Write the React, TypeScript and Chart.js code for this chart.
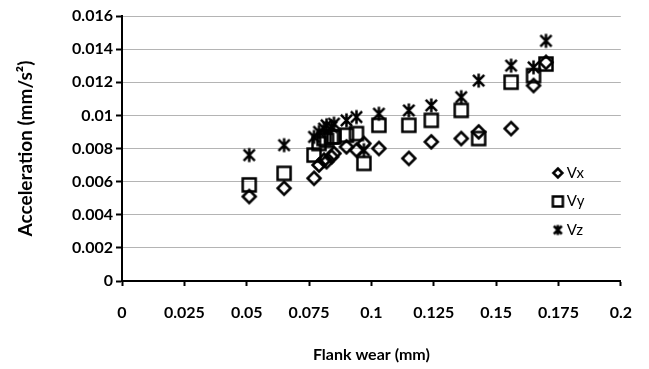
import React, { useEffect, useRef } from 'react';
import { Chart, registerables } from 'chart.js';

Chart.register(...registerables);

const flankWear = [0.051, 0.065, 0.077, 0.079, 0.081, 0.082, 0.084, 0.085, 0.09, 0.094, 0.097, 0.103, 0.115, 0.124, 0.136, 0.143, 0.156, 0.165, 0.17];
const vx = [0.0051, 0.0056, 0.0062, 0.007, 0.0073, 0.0072, 0.0075, 0.0077, 0.0081, 0.0079, 0.0083, 0.008, 0.0074, 0.0084, 0.0086, 0.009, 0.0092, 0.0118, 0.0132];
const vy = [0.0058, 0.0065, 0.0076, 0.0083, 0.0086, 0.0085, 0.0087, 0.0087, 0.0088, 0.0089, 0.0071, 0.0094, 0.0094, 0.0097, 0.0103, 0.0086, 0.012, 0.0124, 0.0131];
const vz = [0.0076, 0.0082, 0.0087, 0.009, 0.0092, 0.0094, 0.0093, 0.0095, 0.0097, 0.0099, 0.0079, 0.0101, 0.0103, 0.0106, 0.0111, 0.0121, 0.013, 0.0129, 0.0145];
const seriesNames = ['Vx', 'Vy', 'Vz'];
const xTitle = 'Flank wear (mm)';
const yTitle = 'Acceleration (mm/s\u00B2)';

type Kind = 'diamond' | 'square' | 'star';

function makeMarker(kind: Kind, size: number, lw: number): HTMLCanvasElement {
  const c = document.createElement('canvas');
  const s = Math.ceil(size + lw * 2 + 2);
  c.width = s;
  c.height = s;
  const ctx = c.getContext('2d')!;
  ctx.strokeStyle = '#000';
  ctx.lineWidth = lw;
  const m = s / 2;
  const h = size / 2;
  ctx.beginPath();
  if (kind === 'diamond') {
    ctx.moveTo(m, m - h);
    ctx.lineTo(m + h, m);
    ctx.lineTo(m, m + h);
    ctx.lineTo(m - h, m);
    ctx.closePath();
  } else if (kind === 'square') {
    ctx.rect(m - h, m - h, size, size);
  } else {
    const d = h * 0.8;
    ctx.moveTo(m - d, m - d);
    ctx.lineTo(m + d, m + d);
    ctx.moveTo(m + d, m - d);
    ctx.lineTo(m - d, m + d);
    ctx.moveTo(m, m - h);
    ctx.lineTo(m, m + h);
  }
  ctx.stroke();
  return c;
}

const fmt = (v: number | string) => String(parseFloat(Number(v).toFixed(4)));

export default function App() {
  const ref = useRef<HTMLCanvasElement | null>(null);

  useEffect(() => {
    const canvas = ref.current;
    if (!canvas) return;
    const markers = [makeMarker('diamond', 13, 2.5), makeMarker('square', 13, 2.5), makeMarker('star', 14, 2.5)];
    const legendMarkers = [makeMarker('diamond', 9, 2.5), makeMarker('square', 10, 2.5), makeMarker('star', 10, 2.5)];
    const values = [vx, vy, vz];

    const legendPlugin = {
      id: 'insideLegend',
      afterDatasetsDraw(chart: any) {
        const { ctx, chartArea } = chart;
        ctx.save();
        ctx.font = '15px Lato';
        ctx.fillStyle = '#000';
        ctx.textBaseline = 'middle';
        ctx.textAlign = 'left';
        seriesNames.forEach((name, i) => {
          const cy = chartArea.top + 157 + i * 28.5;
          const mx = chartArea.right - 63;
          const img = legendMarkers[i];
          ctx.drawImage(img, mx - img.width / 2, cy - img.height / 2);
          ctx.fillText(name, chartArea.right - 54, cy);
        });
        ctx.restore();
      },
    };

    const chart = new Chart(canvas, {
      type: 'scatter',
      data: {
        datasets: seriesNames.map((name, i) => ({
          label: name,
          data: flankWear.map((x, j) => ({ x, y: values[i][j] })),
          pointStyle: markers[i] as any,
          pointRadius: 7,
          showLine: false,
          borderColor: '#000',
          backgroundColor: 'transparent',
        })),
      },
      options: {
        animation: false,
        responsive: true,
        maintainAspectRatio: false,
        layout: { padding: { left: 0, right: 15, top: 16, bottom: 0 } },
        plugins: {
          legend: { display: false },
          tooltip: { enabled: false },
        },
        scales: {
          x: {
            type: 'linear',
            min: 0,
            max: 0.2,
            afterFit: (scale: any) => { scale.height = 88; },
            ticks: {
              stepSize: 0.025,
              callback: (v: any) => fmt(v),
              color: '#000',
              font: { family: 'Lato', weight: 'bold', size: 16 },
              padding: 17,
              maxRotation: 0,
            },
            grid: { drawOnChartArea: false, tickLength: 5, tickColor: '#000', tickWidth: 2 },
            border: { color: '#000', width: 2 },
            title: {
              display: true,
              text: xTitle,
              color: '#000',
              font: { family: 'Lato', weight: 'bold', size: 16 },
              padding: { top: 2, bottom: 5 },
            },
          },
          y: {
            min: 0,
            max: 0.016,
            afterFit: (scale: any) => { scale.width = 122; },
            ticks: {
              stepSize: 0.002,
              callback: (v: any) => fmt(v),
              color: '#000',
              font: { family: 'Lato', weight: 'bold', size: 16 },
              padding: 3,
            },
            grid: { color: '#b4b4b4', lineWidth: 1, tickLength: 6, tickColor: '#000', tickWidth: 2 },
            border: { color: '#000', width: 2 },
            title: {
              display: true,
              text: yTitle,
              color: '#000',
              font: { family: 'Lato', weight: 'bold', size: 19 },
              padding: { top: 14, bottom: 0 },
            },
          },
        },
      },
      plugins: [legendPlugin],
    });
    return () => chart.destroy();
  }, []);

  return (
    <div style={{ position: 'fixed', left: 0, top: 0, width: 649, height: 369, background: '#fff' }}>
      <canvas ref={ref} />
    </div>
  );
}
